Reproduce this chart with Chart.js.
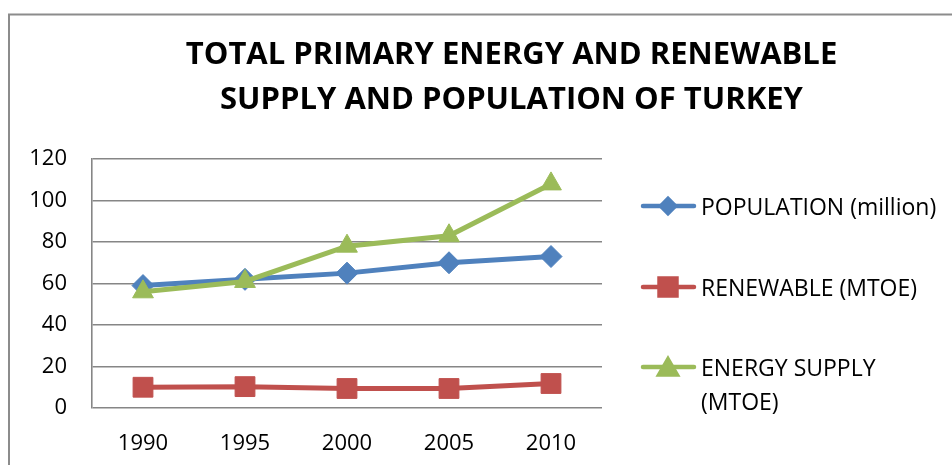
<!DOCTYPE html>
<html>
<head>
<meta charset="utf-8">
<title>Turkey energy and population</title>
<script src="https://cdn.jsdelivr.net/npm/chart.js"></script>
<style>
    html, body { margin: 0; padding: 0; background: #fff; }
</style>
</head>
<body>
<canvas id="energyChart" width="952" height="465"></canvas>
<script>
    const years = ['1990', '1995', '2000', '2005', '2010'];
    const population = [59, 62, 65, 70, 73];
    const renewable = [10, 10.3, 9.4, 9.4, 11.8];
    const energySupply = [56, 61, 78, 83, 108];
    const yMin = 0, yMax = 120, yStep = 20;
    const titleLines = ['TOTAL PRIMARY ENERGY AND RENEWABLE', 'SUPPLY AND POPULATION OF TURKEY'];
    const seriesNames = ['POPULATION (million)', 'RENEWABLE (MTOE)', ['ENERGY SUPPLY', '(MTOE)']];

    const FONT = '"Open Sans", "Liberation Sans", sans-serif';
    const GRID = '#868686';

    // outer frame of the chart object
    const framePlugin = {
        id: 'frame',
        beforeDraw(chart) {
            const ctx = chart.ctx;
            ctx.save();
            ctx.strokeStyle = '#8c8c8c';
            ctx.lineWidth = 2;
            ctx.strokeRect(9, 14.5, 2000, 2000);
            ctx.restore();
        }
    };

    // legend on the right: line + marker, text may wrap
    const sideLegend = {
        id: 'sideLegend',
        afterDraw(chart) {
            const ctx = chart.ctx;
            const rows = [206, 287, 367];
            const sizes = [7, 12, 10];
            ctx.save();
            chart.data.datasets.forEach((ds, i) => {
                const y = rows[i];
                ctx.strokeStyle = ds.borderColor;
                ctx.lineWidth = 4.5;
                ctx.lineCap = 'round';
                ctx.beginPath();
                ctx.moveTo(643, y);
                ctx.lineTo(694, y);
                ctx.stroke();
                ctx.fillStyle = ds.borderColor;
                const r = sizes[i];
                const dy = ds.pointStyle === 'triangle' ? r / 4 : 0;
                Chart.helpers.drawPoint(ctx, { pointStyle: ds.pointStyle, radius: r, rotation: 0, borderWidth: 1 }, 668, y + dy);
                ctx.fill();
                ctx.fillStyle = '#000';
                ctx.font = '23px ' + FONT;
                ctx.textBaseline = 'middle';
                ctx.textAlign = 'left';
                const lines = Array.isArray(ds.label) ? ds.label : [ds.label];
                lines.forEach((t, k) => ctx.fillText(t, 701, y + 2 + k * 34));
            });
            ctx.restore();
        }
    };

    function series(label, data, color, style, radius, order) {
        return {
            label: label,
            data: data,
            borderColor: color,
            backgroundColor: color,
            borderWidth: 5,
            pointStyle: style,
            pointRadius: radius,
            pointHoverRadius: radius,
            pointBackgroundColor: color,
            pointBorderColor: color,
            pointBorderWidth: 1,
            tension: 0,
            order: order
        };
    }

    new Chart(document.getElementById('energyChart'), {
        type: 'line',
        data: {
            labels: years,
            datasets: [
                series(seriesNames[0], population, '#4F81BD', 'rectRot', 11, 3),
                series(seriesNames[1], renewable, '#C0504D', 'rect', 14, 2),
                series(seriesNames[2], energySupply, '#9BBB59', 'triangle', 12, 1)
            ]
        },
        options: {
            responsive: false,
            animation: false,
            // negative right padding shifts the full-width title to the right like the original
            layout: { padding: { left: 0, right: -71, top: 0, bottom: 0 } },
            plugins: {
                legend: { display: false },
                tooltip: { enabled: false },
                title: {
                    display: true,
                    text: titleLines,
                    color: '#000',
                    font: { family: FONT, size: 31, weight: 'bold', lineHeight: '45px' },
                    padding: { top: 33, bottom: 36 }
                }
            },
            scales: {
                x: {
                    offset: true,
                    grid: { display: false },
                    border: { display: false },
                    ticks: { color: '#000', font: { family: FONT, size: 22 }, padding: 15 },
                    afterFit(s) { s.height = 57; }
                },
                y: {
                    min: yMin,
                    max: yMax,
                    grid: { color: GRID, lineWidth: 1.6, drawTicks: false },
                    border: { display: true, color: GRID, width: 1.6 },
                    ticks: { stepSize: yStep, color: '#000', font: { family: FONT, size: 22 }, padding: 25 },
                    afterFit(s) { s.width = 92; }
                },
                spacer: {
                    position: 'right',
                    display: true,
                    grid: { display: false },
                    border: { display: false },
                    ticks: { display: false },
                    afterFit(s) { s.width = 421; }
                }
            }
        },
        plugins: [framePlugin, sideLegend]
    });
</script>
</body>
</html>
